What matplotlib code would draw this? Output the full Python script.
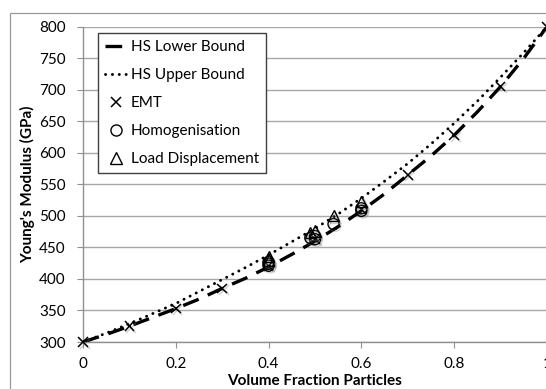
import matplotlib
matplotlib.use("Agg")
import matplotlib.pyplot as plt
from matplotlib.patches import Rectangle
import matplotlib.patheffects as pe

plt.rcParams['font.family'] = ['Lato', 'DejaVu Sans']

# HS bounds
vf_bound = [0.0, 0.05, 0.1, 0.15, 0.2, 0.25, 0.3, 0.35, 0.4, 0.45, 0.5,
            0.55, 0.6, 0.65, 0.7, 0.75, 0.8, 0.85, 0.9, 0.95, 1.0]
hs_lower = [300, 312, 325, 339, 353, 368, 385, 401, 419, 439, 460,
            483, 508, 535, 565, 595, 628, 665, 705, 750, 800]
hs_upper = [300, 314, 329, 345, 361, 380, 399, 418, 438, 459, 480,
            503, 528, 555, 583, 614, 647, 682, 720, 759, 800]

# EMT
vf_emt = [0.0, 0.1, 0.2, 0.3, 0.4, 0.5, 0.6, 0.7, 0.8, 0.9, 1.0]
e_emt = [300, 325, 353, 385, 421, 463, 510, 565, 628, 705, 800]

# Homogenisation
vf_hom = [0.40, 0.40, 0.40, 0.49, 0.50, 0.50, 0.54, 0.60, 0.60]
e_hom = [421, 424, 427, 465, 463, 468, 487, 508, 512]

# Load displacement
vf_ld = [0.40, 0.40, 0.49, 0.50, 0.54, 0.60]
e_ld = [430, 435, 473, 476, 500, 523]

x_ticks = [0, 0.2, 0.4, 0.6, 0.8, 1.0]
x_ticklabels = ['0', '0.2', '0.4', '0.6', '0.8', '1']
y_ticks = [300, 350, 400, 450, 500, 550, 600, 650, 700, 750, 800]

W, H = 546, 389
fig = plt.figure(figsize=(W / 100, H / 100), dpi=100)

# outer chart border
fig.patches.append(Rectangle((10 / W, -0.1), 1.2, (H - 13) / H + 0.1,
                             transform=fig.transFigure, fill=False,
                             edgecolor='#9a9a9a', linewidth=0.9))

ax = fig.add_axes([83 / W, 47 / H, 464 / W, 315.3 / H])

shadow = [pe.SimpleLineShadow(offset=(1.2, -1.2), shadow_color='#808080',
                              alpha=0.35), pe.Normal()]

ax.plot(vf_bound, hs_lower, color='black', linewidth=2.4,
        linestyle=(0, (5, 3)), label='HS Lower Bound', zorder=3)
ax.plot(vf_bound, hs_upper, color='black', linewidth=2.1,
        linestyle=(0, (0.05, 2.3)), dash_capstyle='round',
        label='HS Upper Bound', zorder=3)
ax.plot(vf_emt, e_emt, linestyle='none', marker='x', markersize=7,
        markeredgewidth=1.1, color='black', label='EMT', zorder=4,
        clip_on=False, path_effects=shadow)
ax.plot(vf_hom, e_hom, linestyle='none', marker='o', markersize=8,
        markerfacecolor='none', markeredgecolor='black',
        markeredgewidth=1.0, label='Homogenisation', zorder=4,
        path_effects=shadow)
ax.plot(vf_ld, e_ld, linestyle='none', marker='^', markersize=8,
        markerfacecolor='none', markeredgecolor='black',
        markeredgewidth=1.0, label='Load Displacement', zorder=4,
        path_effects=shadow)

ax.set_xlim(0, 1)
ax.set_ylim(300, 800)
ax.set_xticks(x_ticks)
ax.set_xticklabels(x_ticklabels)
ax.set_yticks(y_ticks)

ax.grid(axis='y', color='#a8a8a8', linewidth=1.0)
ax.set_axisbelow(True)
for s in ['top', 'right']:
    ax.spines[s].set_visible(False)
for s in ['left', 'bottom']:
    ax.spines[s].set_color('#909090')
    ax.spines[s].set_linewidth(1.0)

ax.tick_params(axis='x', direction='out', length=4, color='#909090',
               labelsize=11, pad=7)
ax.tick_params(axis='y', direction='out', length=4, color='#909090',
               labelsize=11, pad=8.5)

ax.set_xlabel('Volume Fraction Particles', fontsize=11, fontweight='bold',
              labelpad=2)
ax.set_ylabel("Young's Modulus (GPa)", fontsize=11, fontweight='bold',
              labelpad=3)

leg = ax.legend(loc='upper left', bbox_to_anchor=(0.0323, 0.98),
                borderaxespad=0, fontsize=11, frameon=True, fancybox=False,
                edgecolor='#404040', framealpha=1, labelspacing=0.92,
                handlelength=1.4, handletextpad=0.3, borderpad=0.45)
leg.get_frame().set_linewidth(1.0)
for t in leg.get_lines():
    t.set_path_effects([])

fig.savefig('out.png', dpi=100)
